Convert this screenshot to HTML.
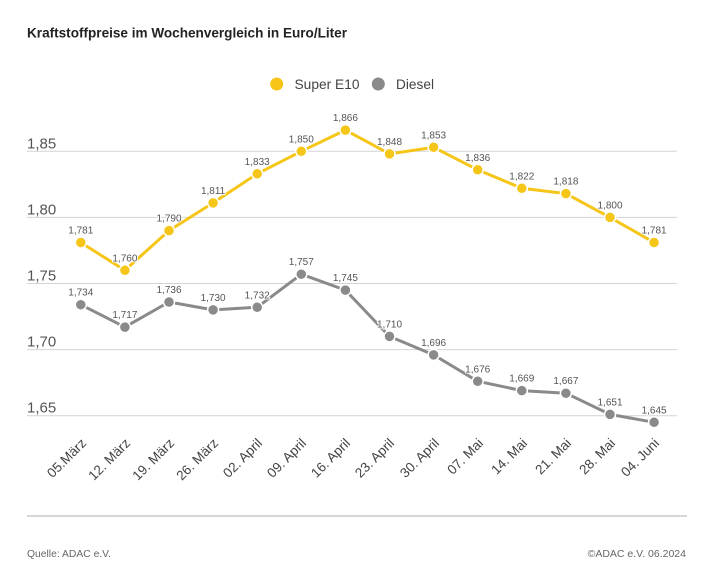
<!DOCTYPE html>
<html><head><meta charset="utf-8">
<style>
html,body{margin:0;padding:0;background:#fff;}
svg{display:block;font-family:"Liberation Sans",sans-serif;}
</style></head>
<body>
<svg width="713" height="567" viewBox="0 0 713 567" xmlns="http://www.w3.org/2000/svg">
<rect width="713" height="567" fill="#fff"/>
<text x="27" y="37.5" font-size="14" font-weight="bold" fill="#222" textLength="320" lengthAdjust="spacingAndGlyphs">Kraftstoffpreise im Wochenvergleich in Euro/Liter</text>

<!-- legend -->
<circle cx="276.7" cy="84" r="6.5" fill="#F5C518"/>
<text x="294.5" y="89" font-size="14" fill="#444" textLength="65" lengthAdjust="spacingAndGlyphs">Super E10</text>
<circle cx="378.3" cy="84" r="6.5" fill="#8a8a8a"/>
<text x="396" y="89" font-size="14" fill="#444" textLength="38" lengthAdjust="spacingAndGlyphs">Diesel</text>

<!-- gridlines -->
<g stroke="#d4d4d4" stroke-width="1">
<line x1="27" y1="151.3" x2="677" y2="151.3"/>
<line x1="27" y1="217.4" x2="677" y2="217.4"/>
<line x1="27" y1="283.5" x2="677" y2="283.5"/>
<line x1="27" y1="349.6" x2="677" y2="349.6"/>
<line x1="27" y1="415.7" x2="677" y2="415.7"/>
</g>
<g font-size="15" fill="#555">
<text x="27" y="148.3">1,85</text>
<text x="27" y="214.4">1,80</text>
<text x="27" y="280.5">1,75</text>
<text x="27" y="346.6">1,70</text>
<text x="27" y="412.7">1,65</text>
</g>

<!-- E10 -->
<polyline fill="none" stroke="#F5C518" stroke-width="3" stroke-linejoin="round" points="80.8,242.5 124.9,270.3 169.0,230.6 213.1,202.9 257.2,173.8 301.3,151.3 345.4,130.1 389.5,153.9 433.6,147.3 477.7,169.8 521.8,188.3 565.9,193.6 610.0,217.4 654.1,242.5"/>
<g fill="#F5C518" stroke="#fff" stroke-width="1.5">
<circle cx="80.8" cy="242.5" r="5.5"/><circle cx="124.9" cy="270.3" r="5.5"/><circle cx="169.0" cy="230.6" r="5.5"/><circle cx="213.1" cy="202.9" r="5.5"/><circle cx="257.2" cy="173.8" r="5.5"/><circle cx="301.3" cy="151.3" r="5.5"/><circle cx="345.4" cy="130.1" r="5.5"/><circle cx="389.5" cy="153.9" r="5.5"/><circle cx="433.6" cy="147.3" r="5.5"/><circle cx="477.7" cy="169.8" r="5.5"/><circle cx="521.8" cy="188.3" r="5.5"/><circle cx="565.9" cy="193.6" r="5.5"/><circle cx="610.0" cy="217.4" r="5.5"/><circle cx="654.1" cy="242.5" r="5.5"/>
</g>

<!-- Diesel -->
<polyline fill="none" stroke="#8a8a8a" stroke-width="3" stroke-linejoin="round" points="80.8,304.7 124.9,327.1 169.0,302.0 213.1,309.9 257.2,307.3 301.3,274.2 345.4,290.1 389.5,336.4 433.6,354.9 477.7,381.3 521.8,390.6 565.9,393.2 610.0,414.4 654.1,422.3"/>
<g fill="#8a8a8a" stroke="#fff" stroke-width="1.5">
<circle cx="80.8" cy="304.7" r="5.5"/><circle cx="124.9" cy="327.1" r="5.5"/><circle cx="169.0" cy="302.0" r="5.5"/><circle cx="213.1" cy="309.9" r="5.5"/><circle cx="257.2" cy="307.3" r="5.5"/><circle cx="301.3" cy="274.2" r="5.5"/><circle cx="345.4" cy="290.1" r="5.5"/><circle cx="389.5" cy="336.4" r="5.5"/><circle cx="433.6" cy="354.9" r="5.5"/><circle cx="477.7" cy="381.3" r="5.5"/><circle cx="521.8" cy="390.6" r="5.5"/><circle cx="565.9" cy="393.2" r="5.5"/><circle cx="610.0" cy="414.4" r="5.5"/><circle cx="654.1" cy="422.3" r="5.5"/>
</g>

<!-- value labels -->
<g font-size="10" fill="#555" text-anchor="middle" stroke="#fff" stroke-width="2" paint-order="stroke" stroke-linejoin="round">
<text x="80.8" y="233.5">1,781</text>
<text x="124.9" y="261.3">1,760</text>
<text x="169.0" y="221.6">1,790</text>
<text x="213.1" y="193.9">1,811</text>
<text x="257.2" y="164.8">1,833</text>
<text x="301.3" y="142.3">1,850</text>
<text x="345.4" y="121.1">1,866</text>
<text x="389.5" y="144.9">1,848</text>
<text x="433.6" y="138.3">1,853</text>
<text x="477.7" y="160.8">1,836</text>
<text x="521.8" y="179.3">1,822</text>
<text x="565.9" y="184.6">1,818</text>
<text x="610.0" y="208.4">1,800</text>
<text x="654.1" y="233.5">1,781</text>

<text x="80.8" y="295.7">1,734</text>
<text x="124.9" y="318.1">1,717</text>
<text x="169.0" y="293.0">1,736</text>
<text x="213.1" y="300.9">1,730</text>
<text x="257.2" y="298.3">1,732</text>
<text x="301.3" y="265.2">1,757</text>
<text x="345.4" y="281.1">1,745</text>
<text x="389.5" y="327.4">1,710</text>
<text x="433.6" y="345.9">1,696</text>
<text x="477.7" y="372.3">1,676</text>
<text x="521.8" y="381.6">1,669</text>
<text x="565.9" y="384.2">1,667</text>
<text x="610.0" y="405.4">1,651</text>
<text x="654.1" y="413.3">1,645</text>
</g>

<!-- x labels -->
<g font-size="13.5" fill="#444" text-anchor="end">
<text transform="translate(87,444) rotate(-45)">05.März</text>
<text transform="translate(131,444) rotate(-45)">12. März</text>
<text transform="translate(175,444) rotate(-45)">19. März</text>
<text transform="translate(219,444) rotate(-45)">26. März</text>
<text transform="translate(263,444) rotate(-45)">02. April</text>
<text transform="translate(307,444) rotate(-45)">09. April</text>
<text transform="translate(351,444) rotate(-45)">16. April</text>
<text transform="translate(395,444) rotate(-45)">23. April</text>
<text transform="translate(440,444) rotate(-45)">30. April</text>
<text transform="translate(484,444) rotate(-45)">07. Mai</text>
<text transform="translate(528,444) rotate(-45)">14. Mai</text>
<text transform="translate(572,444) rotate(-45)">21. Mai</text>
<text transform="translate(616,444) rotate(-45)">28. Mai</text>
<text transform="translate(660,444) rotate(-45)">04. Juni</text>
</g>

<line x1="27" y1="516" x2="687" y2="516" stroke="#c8c8c8" stroke-width="1.5"/>

<text x="27" y="557" font-size="10.5" fill="#666" textLength="84" lengthAdjust="spacingAndGlyphs">Quelle: ADAC e.V.</text>
<text x="686" y="557" font-size="10.5" fill="#666" text-anchor="end">©ADAC e.V. 06.2024</text>
</svg>
</body></html>
